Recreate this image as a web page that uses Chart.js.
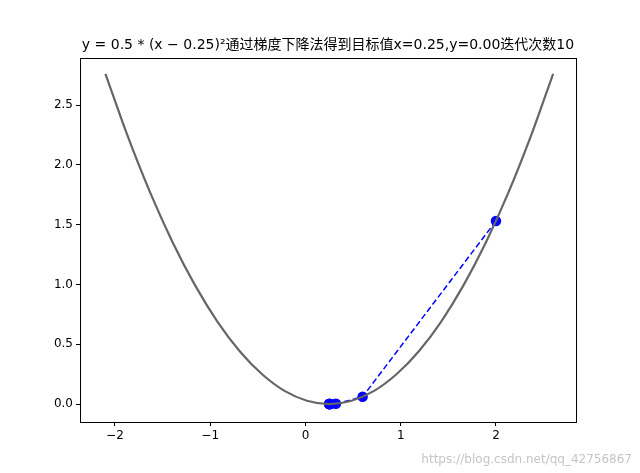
<!DOCTYPE html>
<html>
<head>
<meta charset="utf-8">
<script src="https://cdn.jsdelivr.net/npm/chart.js@4"></script>
<style>body{margin:0;background:#fff}#wrap{width:640px;height:473px}</style>
</head>
<body>
<div id="wrap"><canvas id="c"></canvas></div>
<script>
// curve y = 0.5*(x-0.25)^2
const curveX = [-2.1,-1.865,-1.63,-1.395,-1.16,-0.925,-0.69,-0.455,-0.22,0.015,0.25,0.485,0.72,0.955,1.19,1.425,1.66,1.895,2.13,2.365,2.6];
const curveY = [2.761,2.237,1.767,1.353,0.994,0.690,0.442,0.249,0.110,0.028,0,0.028,0.110,0.249,0.442,0.690,0.994,1.353,1.767,2.237,2.761];
// gradient descent steps
const stepX = [2.0,0.6,0.32,0.264,0.2528,0.25056,0.25011,0.25002,0.25000,0.25000];
const stepY = [1.531,0.0613,0.00245,0.0001,0,0,0,0,0,0];
const xTicks = [-2,-1,0,1,2];
const yTicks = [0,0.5,1.0,1.5,2.0,2.5];
const titleText = 'y = 0.5 * (x − 0.25)²通过梯度下降法得到目标值x=0.25,y=0.00迭代次数10';

const font = "'DejaVu Sans','Noto Sans CJK SC',sans-serif";

const deco = {
  id: 'deco',
  afterDraw(chart) {
    const ctx = chart.ctx, a = chart.chartArea;
    ctx.save();
    ctx.strokeStyle = '#000'; ctx.lineWidth = 1;
    ctx.strokeRect(a.left + 0.5, a.top + 0.5, a.right - a.left, a.bottom - a.top);
    ctx.fillStyle = '#000';
    ctx.font = "14px " + font;
    ctx.textAlign = 'center'; ctx.textBaseline = 'bottom';
    ctx.fillText(titleText, (a.left + a.right) / 2, a.top - 6);
    ctx.fillStyle = 'rgba(190,190,190,0.9)';
    ctx.font = "12px " + font;
    ctx.textAlign = 'right';
    ctx.fillText('https://blog.csdn.net/qq_42756867', 632, 466);
    ctx.restore();
  }
};

new Chart(document.getElementById('c'), {
  type: 'scatter',
  data: {
    datasets: [{
      data: curveX.map((x, i) => ({x, y: curveY[i]})),
      showLine: true, borderColor: '#666666', borderWidth: 2.2,
      pointRadius: 0, cubicInterpolationMode: 'monotone'
    }, {
      data: stepX.map((x, i) => ({x, y: stepY[i]})),
      showLine: true, borderColor: '#0000ff', borderWidth: 1.5, borderDash: [6, 3],
      pointRadius: 4.5, pointBackgroundColor: '#0000ff', pointBorderColor: '#0000ff'
    }]
  },
  options: {
    responsive: true, maintainAspectRatio: false, animation: false,
    layout: {padding: {top: 58, right: 64, left: 0, bottom: 0}},
    plugins: {legend: {display: false}, tooltip: {enabled: false}},
    scales: {
      x: {
        min: -2.367, max: 2.84,
        afterFit(s) { s.height = 51; },
        afterBuildTicks(s) { s.ticks = xTicks.map(v => ({value: v})); },
        grid: {drawOnChartArea: false, tickLength: 4, color: '#000'},
        border: {color: '#000'},
        ticks: {color: '#000', font: {size: 12, family: font}, callback: v => String(v).replace('-', '−')}
      },
      y: {
        min: -0.15, max: 2.893,
        afterFit(s) { s.width = 80; },
        afterBuildTicks(s) { s.ticks = yTicks.map(v => ({value: v})); },
        grid: {drawOnChartArea: false, tickLength: 4, color: '#000'},
        border: {color: '#000'},
        ticks: {color: '#000', font: {size: 12, family: font}, callback: v => v.toFixed(1)}
      }
    }
  },
  plugins: [deco]
});
</script>
</body>
</html>
